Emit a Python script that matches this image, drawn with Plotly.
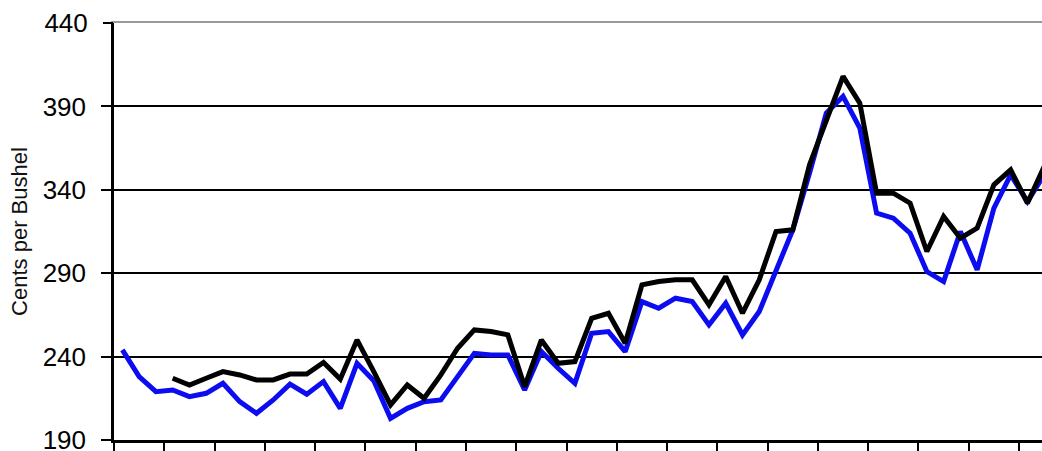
import plotly.graph_objects as go

# Monthly index positions (categories)
months = list(range(56))

# Blue series (cents per bushel)
blue_values = [244, 228, 219, 220, 216, 218, 224, 213, 206, 214,
               223.5, 217.5, 225, 209, 236, 225.5, 203, 209, 213, 214,
               228, 242, 241, 241, 220, 243, 233, 224, 254, 255,
               243, 273, 269, 275, 273, 259, 272, 253, 267, 291,
               316, 350, 386, 396, 377, 326, 323, 314, 291, 285,
               315, 292, 329, 349, 333, 349]

# Black series (cents per bushel)
black_values = [None, None, None, 227, 223, 227, 231, 229, 226, 226,
                229.5, 229.5, 236.5, 226.5, 250, 231, 211, 223, 215, 229,
                245, 256, 255, 253, 222, 250, 236, 237, 263, 266,
                248, 283, 285, 286, 286, 271, 288, 266, 286, 315,
                316, 355, 381, 408, 392, 338, 338, 332, 303, 324,
                311, 317, 343, 352, 332, 354]

y_grid_ticks = [190, 240, 290, 340, 390]
y_top_tick = [440]
y_range = [190, 440]
y_title = "Cents per Bushel"

fig = go.Figure()
fig.add_trace(go.Scatter(x=months, y=blue_values, mode="lines",
                         line=dict(color="#0c0cf0", width=5), showlegend=False))
fig.add_trace(go.Scatter(x=months, y=black_values, mode="lines",
                         line=dict(color="#000000", width=5), showlegend=False))

tick_common = dict(ticks="outside", ticklen=10, tickwidth=2, tickcolor="black",
                   tickfont=dict(size=26, color="black"), ticklabelstandoff=10,
                   ticklabeloverflow="allow", zeroline=False, automargin=False)

fig.update_layout(
    width=1042, height=451,
    margin=dict(l=114, r=0, t=23, b=11, autoexpand=False),
    paper_bgcolor="white", plot_bgcolor="white",
    font=dict(family="Liberation Sans, Arial, sans-serif", color="black"),
    xaxis=dict(
        range=[-0.5, 54.87], showgrid=False, zeroline=False, automargin=False,
        showline=True, linecolor="black", linewidth=2.5,
        ticks="outside", ticklen=10, tickwidth=2, tickcolor="black",
        tick0=-0.5, dtick=3, showticklabels=False,
    ),
    xaxis2=dict(
        overlaying="x", side="top", range=[-0.5, 54.87], automargin=False,
        showgrid=False, zeroline=False, showline=True,
        linecolor="#999999", linewidth=2, showticklabels=False, ticks="",
    ),
    yaxis=dict(
        range=y_range, tickvals=y_grid_ticks, showgrid=True,
        gridcolor="black", gridwidth=1.8,
        showline=True, linecolor="black", linewidth=2.5,
        title=dict(text=y_title, font=dict(size=22, color="#111111"), standoff=9),
        **tick_common,
    ),
    yaxis2=dict(
        overlaying="y", side="left", range=y_range, tickvals=y_top_tick,
        showgrid=False, showline=False,
        **tick_common,
    ),
)
# invisible traces to activate the overlay axes
fig.add_trace(go.Scatter(x=[None], y=[None], xaxis="x2", showlegend=False, hoverinfo="skip"))
fig.add_trace(go.Scatter(x=[None], y=[None], yaxis="y2", showlegend=False, hoverinfo="skip"))

fig.write_html("out.html", config={"displayModeBar": False},
               post_script="document.body.style.margin='0';document.body.style.overflow='hidden';")
